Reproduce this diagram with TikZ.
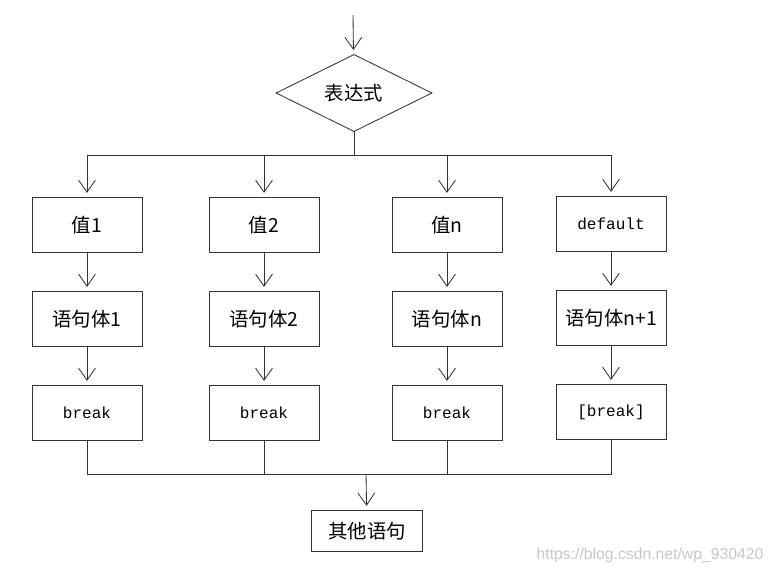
\documentclass[tikz,border=0pt]{standalone}
\usepackage{fontspec}
\setmainfont{Liberation Serif}
\setmonofont{Liberation Mono}
\newfontfamily\cjk{Noto Sans CJK SC}
\newfontfamily\marksans{Liberation Sans}
\usepackage{tikz}
\usetikzlibrary{shapes}
\usetikzlibrary{arrows.meta}

\begin{document}
\begin{tikzpicture}[x=0.025cm,y=-0.025cm,->,semithick,
    >={Straight Barb[length=0.3cm,width=0.42cm]},shorten >=3pt,
    draw=black!80,node distance=2.35cm,
    wire/.style={-,shorten >=0pt},
    box/.style={draw,rectangle,minimum width=2.75cm,minimum height=1.375cm,inner sep=0pt},
    cntext/.style={font=\cjk\fontsize{13.8}{16}\selectfont},
    mono/.style={font=\ttfamily\fontsize{11.4}{14}\selectfont}]
      \useasboundingbox (0,0) rectangle (774,574);
      \coordinate (in) at (353,15);
      \node[draw,diamond,minimum width=3.9cm,minimum height=1.93cm,inner sep=0pt,cntext] (expr) at (354,93) {表达式};
      \coordinate (split) at (354,155);
      \node[box,cntext] (v1) at (87,225)  {值1};
      \node[box,cntext] (v2) at (264,225) {值2};
      \node[box,cntext] (v3) at (447,225) {值n};
      \node[box,mono]   (v4) at (611,224) {default};
      \node[box,cntext] (s1) [below of=v1] {语句体1};
      \node[box,cntext] (s2) [below of=v2] {语句体2};
      \node[box,cntext] (s3) [below of=v3] {语句体n};
      \node[box,cntext] (s4) [below of=v4] {语句体n+1};
      \node[box,mono] (b1) [below of=s1] {break};
      \node[box,mono] (b2) [below of=s2] {break};
      \node[box,mono] (b3) [below of=s3] {break};
      \node[box,mono] (b4) [below of=s4] {[break]};
      \coordinate (join) at (366,474);
      \node[draw,minimum width=2.78cm,minimum height=1.03cm,cntext] (other) at (367,531) {其他语句};
      \node[text=black!22,font=\marksans\fontsize{11.2}{13}\selectfont] (mark) at (650,555) {https://blog.csdn.net/wp\_930420};
      \path (in) edge (expr);
      \draw[wire] (expr) -- (split);
      \draw (split) -| (v1);
      \draw (split) -| (v2);
      \draw (split) -| (v3);
      \draw (split) -| (v4);
      \path (v1) edge (s1);
      \path (v2) edge (s2);
      \path (v3) edge (s3);
      \path (v4) edge (s4);
      \path (s1) edge (b1);
      \path (s2) edge (b2);
      \path (s3) edge (b3);
      \path (s4) edge (b4);
      \draw[wire] (b1) |- (join);
      \draw[wire] (b2) |- (join);
      \draw[wire] (b3) |- (join);
      \draw[wire] (b4) |- (join);
      \path (join) edge (other);
    \end{tikzpicture}
\end{document}
